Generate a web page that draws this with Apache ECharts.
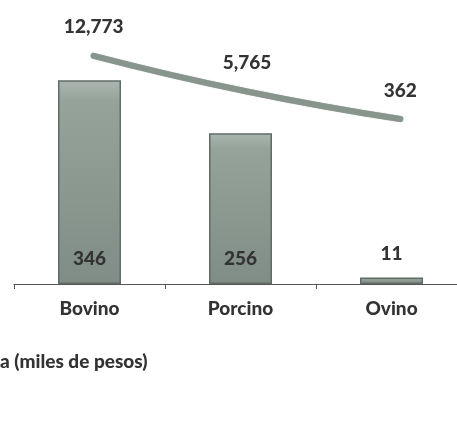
<!DOCTYPE html>
<html><head><meta charset="utf-8">
<script src="https://cdn.jsdelivr.net/npm/echarts@6/dist/echarts.min.js"></script>
<style>html,body{margin:0;padding:0;background:#fff}#c{width:457px;height:424px}</style>
</head><body><div id="c"></div>
<script>
const categories = ['Bovino', 'Porcino', 'Ovino'];
const barValues = [346, 256, 11];
const lineValues = [12773, 5765, 362];
const footText = 'a (miles de pesos)';

const FONT = 'Lato';
const FS = 19;
const chart = echarts.init(document.getElementById('c'), null, {renderer: 'canvas'});
const fmt = v => v.toLocaleString('en-US');
chart.setOption({
  backgroundColor: '#ffffff',
  animation: false,
  grid: [
    {left: 14, top: 19, width: 453, height: 265, outerBoundsMode: 'none', containLabel: false},
    {left: 17, top: 19, width: 460, height: 265, outerBoundsMode: 'none', containLabel: false}
  ],
  xAxis: [{
    type: 'category', data: categories, gridIndex: 0,
    axisLine: {lineStyle: {color: '#555', width: 1}},
    axisTick: {show: true, length: 5, lineStyle: {color: '#555'}},
    axisLabel: {color: '#333', fontFamily: FONT, fontWeight: 900, fontSize: FS, margin: 15}
  }, {
    type: 'category', data: categories, gridIndex: 1, show: false
  }],
  yAxis: [
    {type: 'value', gridIndex: 0, min: 0, max: 450, show: false, splitLine: {show: false}},
    {type: 'value', gridIndex: 1, min: -32000, max: 20000, show: false, splitLine: {show: false}}
  ],
  series: [
    {
      type: 'bar', xAxisIndex: 0, yAxisIndex: 0, barWidth: 63,
      data: barValues.map((v, i) => ({
        value: v,
        label: i === 2 ? {position: 'top', distance: 14} : {position: 'insideBottom', distance: 16}
      })),
      itemStyle: {
        color: new echarts.graphic.LinearGradient(0, 0, 0, 1, [
          {offset: 0, color: '#abb7b0'},
          {offset: 0.1, color: '#95a39b'},
          {offset: 1, color: '#808d86'}
        ]),
        borderColor: '#606c65', borderWidth: 1.5
      },
      label: {show: true, color: '#333', fontFamily: FONT, fontWeight: 900, fontSize: FS, formatter: p => fmt(p.value)}
    },
    {
      type: 'line', xAxisIndex: 1, yAxisIndex: 1, smooth: true, showSymbol: true, symbol: 'circle', symbolSize: 2,
      itemStyle: {color: 'rgba(0,0,0,0)', borderWidth: 0},
      data: lineValues,
      lineStyle: {width: 6, color: '#87958d', cap: 'round', shadowColor: 'rgba(60,70,65,0.5)', shadowBlur: 1},
      label: {show: true, position: 'top', distance: 18, color: '#333', fontFamily: FONT, fontWeight: 900, fontSize: FS, formatter: p => fmt(p.value)}
    }
  ],
  graphic: [{
    type: 'text', left: 0, top: 352,
    style: {text: footText, fill: '#333', font: '900 ' + FS + 'px ' + FONT}
  }]
});
</script></body></html>
